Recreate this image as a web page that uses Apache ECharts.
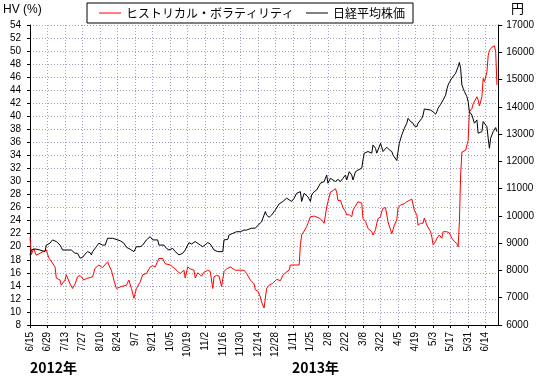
<!DOCTYPE html>
<html>
<head>
<meta charset="utf-8">
<script src="https://cdn.jsdelivr.net/npm/echarts@6/dist/echarts.min.js"></script>
<style>
html, body { margin: 0; padding: 0; background: #fff; }
#hvChart { width: 537px; height: 378px; }
</style>
</head>
<body>
<div id="hvChart"></div>
<script>
var hvChart = echarts.init(document.getElementById('hvChart'));

let startDate = '2012-06-15';
let hvName = 'ヒストリカル・ボラティリティ';
let nkName = '日経平均株価';

// ヒストリカル・ボラティリティ (%)
let hvDates = [
    '2012-06-15', '2012-06-16', '2012-06-18', '2012-06-20', '2012-06-23', '2012-06-28', '2012-06-30', '2012-07-03', '2012-07-05', '2012-07-06',
    '2012-07-09', '2012-07-10', '2012-07-11', '2012-07-13', '2012-07-14', '2012-07-17', '2012-07-19', '2012-07-21', '2012-07-23', '2012-07-25',
    '2012-07-26', '2012-07-28', '2012-07-30', '2012-08-04', '2012-08-06', '2012-08-07', '2012-08-09', '2012-08-12', '2012-08-16', '2012-08-17',
    '2012-08-19', '2012-08-21', '2012-08-23', '2012-08-27', '2012-08-31', '2012-09-02', '2012-09-04', '2012-09-05', '2012-09-06', '2012-09-08',
    '2012-09-11', '2012-09-13', '2012-09-16', '2012-09-19', '2012-09-21', '2012-09-23', '2012-09-26', '2012-09-29', '2012-10-01', '2012-10-05',
    '2012-10-07', '2012-10-09', '2012-10-11', '2012-10-13', '2012-10-16', '2012-10-17', '2012-10-19', '2012-10-21', '2012-10-24', '2012-10-25',
    '2012-10-27', '2012-10-30', '2012-11-01', '2012-11-04', '2012-11-06', '2012-11-08', '2012-11-09', '2012-11-11', '2012-11-13', '2012-11-15',
    '2012-11-17', '2012-11-19', '2012-11-22', '2012-11-23', '2012-11-26', '2012-12-03', '2012-12-05', '2012-12-08', '2012-12-11', '2012-12-12',
    '2012-12-14', '2012-12-16', '2012-12-17', '2012-12-19', '2012-12-20', '2012-12-21', '2012-12-23', '2012-12-26', '2012-12-29', '2013-01-01',
    '2013-01-03', '2013-01-05', '2013-01-08', '2013-01-09', '2013-01-16', '2013-01-17', '2013-01-18', '2013-01-20', '2013-01-22', '2013-01-23',
    '2013-01-25', '2013-01-28', '2013-02-01', '2013-02-03', '2013-02-05', '2013-02-07', '2013-02-08', '2013-02-10', '2013-02-12', '2013-02-14',
    '2013-02-15', '2013-02-16', '2013-02-18', '2013-02-20', '2013-02-22', '2013-02-23', '2013-02-25', '2013-02-27', '2013-02-28', '2013-03-04',
    '2013-03-07', '2013-03-08', '2013-03-10', '2013-03-11', '2013-03-12', '2013-03-13', '2013-03-15', '2013-03-16', '2013-03-18', '2013-03-19',
    '2013-03-20', '2013-03-22', '2013-03-23', '2013-03-24', '2013-03-26', '2013-03-28', '2013-03-29', '2013-03-31', '2013-04-01', '2013-04-02',
    '2013-04-04', '2013-04-05', '2013-04-07', '2013-04-10', '2013-04-12', '2013-04-14', '2013-04-16', '2013-04-17', '2013-04-18', '2013-04-20',
    '2013-04-21', '2013-04-23', '2013-04-25', '2013-04-26', '2013-04-28', '2013-04-29', '2013-05-01', '2013-05-02', '2013-05-03', '2013-05-05',
    '2013-05-06', '2013-05-08', '2013-05-10', '2013-05-11', '2013-05-14', '2013-05-16', '2013-05-18', '2013-05-19', '2013-05-20', '2013-05-22',
    '2013-05-23', '2013-05-24', '2013-05-25', '2013-05-26', '2013-05-29', '2013-05-31', '2013-06-01', '2013-06-03', '2013-06-04', '2013-06-05',
    '2013-06-07', '2013-06-08', '2013-06-09', '2013-06-11', '2013-06-12', '2013-06-13', '2013-06-15', '2013-06-16', '2013-06-17', '2013-06-19',
    '2013-06-21', '2013-06-22', '2013-06-23'
];
let hvValues = [
    21.4, 18.8, 19.7, 18.7, 19.0, 19.5, 18.3, 17.5, 16.9, 15.2,
    14.9, 14.1, 14.3, 14.9, 15.7, 14.3, 13.6, 14.3, 15.4, 15.6,
    15.4, 14.9, 15.1, 15.4, 16.7, 16.9, 17.2, 16.8, 17.7, 17.2,
    16.4, 14.9, 13.6, 13.9, 14.1, 14.9, 13.6, 12.9, 12.1, 13.6,
    14.6, 15.7, 15.9, 16.9, 17.1, 16.9, 18.2, 18.2, 17.4, 17.2,
    16.9, 16.6, 16.2, 15.9, 16.4, 15.2, 16.9, 16.6, 16.4, 15.2,
    16.0, 15.5, 16.1, 16.4, 16.2, 13.6, 15.4, 15.6, 15.5, 13.9,
    16.2, 16.6, 16.9, 17.2, 16.4, 16.4, 15.9, 14.9, 14.3, 13.4,
    13.2, 12.3, 11.5, 10.6, 12.1, 13.6, 14.1, 14.4, 15.0, 14.8,
    15.6, 16.0, 16.4, 17.2, 17.2, 20.3, 21.8, 22.4, 23.1, 23.6,
    24.6, 24.7, 24.4, 24.1, 23.6, 26.1, 26.9, 28.4, 28.6, 28.9,
    28.4, 27.1, 27.1, 26.0, 25.4, 24.9, 24.9, 24.6, 25.6, 26.9,
    26.7, 24.3, 23.9, 23.6, 22.8, 22.6, 22.3, 21.8, 22.6, 23.6,
    24.3, 24.6, 25.4, 25.9, 26.0, 23.8, 23.6, 22.0, 22.6, 23.3,
    24.1, 26.0, 26.4, 26.6, 26.9, 27.1, 27.3, 27.6, 25.6, 24.9,
    23.3, 23.6, 23.6, 24.4, 23.3, 23.0, 22.3, 21.5, 20.3, 20.8,
    21.3, 21.8, 21.3, 22.3, 22.3, 22.1, 21.3, 21.5, 20.8, 20.5,
    20.0, 23.8, 31.0, 34.5, 34.8, 36.3, 40.7, 41.2, 41.9, 41.6,
    43.0, 42.5, 41.6, 43.0, 45.8, 45.3, 46.8, 49.3, 50.1, 50.6,
    50.8, 49.9, 44.8
];

// 日経平均株価 (円)
let nkDates = [
    '2012-06-15', '2012-06-16', '2012-06-17', '2012-06-19', '2012-06-23', '2012-06-27', '2012-06-28', '2012-07-01', '2012-07-03', '2012-07-06',
    '2012-07-09', '2012-07-10', '2012-07-11', '2012-07-18', '2012-07-21', '2012-07-23', '2012-07-25', '2012-07-27', '2012-07-29', '2012-07-31',
    '2012-08-02', '2012-08-03', '2012-08-04', '2012-08-07', '2012-08-09', '2012-08-12', '2012-08-14', '2012-08-16', '2012-08-20', '2012-08-21',
    '2012-08-26', '2012-08-29', '2012-08-31', '2012-09-03', '2012-09-06', '2012-09-08', '2012-09-11', '2012-09-13', '2012-09-16', '2012-09-19',
    '2012-09-21', '2012-09-25', '2012-09-26', '2012-09-30', '2012-10-02', '2012-10-04', '2012-10-07', '2012-10-09', '2012-10-12', '2012-10-13',
    '2012-10-15', '2012-10-17', '2012-10-20', '2012-10-22', '2012-10-25', '2012-10-29', '2012-10-31', '2012-11-04', '2012-11-06', '2012-11-09',
    '2012-11-12', '2012-11-16', '2012-11-17', '2012-11-20', '2012-11-21', '2012-11-24', '2012-11-27', '2012-11-30', '2012-12-03', '2012-12-05',
    '2012-12-09', '2012-12-12', '2012-12-13', '2012-12-15', '2012-12-17', '2012-12-20', '2012-12-21', '2012-12-23', '2012-12-24', '2012-12-25',
    '2012-12-28', '2012-12-31', '2013-01-03', '2013-01-06', '2013-01-08', '2013-01-10', '2013-01-12', '2013-01-14', '2013-01-17', '2013-01-18',
    '2013-01-20', '2013-01-23', '2013-01-25', '2013-01-26', '2013-01-28', '2013-01-30', '2013-02-02', '2013-02-03', '2013-02-05', '2013-02-07',
    '2013-02-08', '2013-02-10', '2013-02-12', '2013-02-14', '2013-02-16', '2013-02-18', '2013-02-20', '2013-02-22', '2013-02-23', '2013-02-25',
    '2013-02-27', '2013-02-28', '2013-03-02', '2013-03-04', '2013-03-07', '2013-03-08', '2013-03-09', '2013-03-12', '2013-03-15', '2013-03-16',
    '2013-03-18', '2013-03-19', '2013-03-20', '2013-03-22', '2013-03-23', '2013-03-24', '2013-03-25', '2013-03-27', '2013-03-29', '2013-03-31',
    '2013-04-01', '2013-04-02', '2013-04-04', '2013-04-05', '2013-04-06', '2013-04-08', '2013-04-09', '2013-04-10', '2013-04-12', '2013-04-13',
    '2013-04-15', '2013-04-17', '2013-04-18', '2013-04-20', '2013-04-21', '2013-04-22', '2013-04-24', '2013-04-25', '2013-04-26', '2013-05-01',
    '2013-05-03', '2013-05-05', '2013-05-06', '2013-05-07', '2013-05-09', '2013-05-11', '2013-05-13', '2013-05-14', '2013-05-15', '2013-05-16',
    '2013-05-18', '2013-05-19', '2013-05-21', '2013-05-22', '2013-05-23', '2013-05-24', '2013-05-25', '2013-05-26', '2013-05-27', '2013-05-28',
    '2013-05-30', '2013-05-31', '2013-06-01', '2013-06-03', '2013-06-04', '2013-06-05', '2013-06-07', '2013-06-08', '2013-06-09', '2013-06-11',
    '2013-06-12', '2013-06-13', '2013-06-15', '2013-06-16', '2013-06-17', '2013-06-18', '2013-06-19', '2013-06-20', '2013-06-21', '2013-06-22',
    '2013-06-23'
];
let nkValues = [
    8570, 8750, 8690, 8790, 8750, 8690, 8930, 9000, 9120, 9060,
    8930, 8850, 8750, 8750, 8630, 8630, 8450, 8480, 8600, 8690,
    8650, 8570, 8690, 8870, 9000, 8930, 8930, 9180, 9180, 9120,
    9090, 9000, 8850, 8780, 8690, 8870, 8870, 8930, 9120, 9240,
    9120, 9120, 8930, 8930, 8810, 8750, 8810, 8690, 8570, 8530,
    8630, 8750, 9020, 8970, 9060, 8930, 8870, 9020, 8970, 8750,
    8690, 8690, 9120, 9140, 9300, 9360, 9420, 9420, 9480, 9480,
    9550, 9550, 9610, 9700, 9780, 10160, 10030, 9950, 9990, 10030,
    10220, 10440, 10530, 10650, 10590, 10530, 10650, 10830, 10890, 10530,
    10830, 10700, 10530, 10770, 10890, 10950, 11200, 11260, 11260, 11500,
    11200, 11380, 11320, 11260, 11340, 11260, 11380, 11500, 11320, 11620,
    11500, 11320, 11620, 11680, 11750, 12050, 12300, 12360, 12300, 12600,
    12480, 12300, 12230, 12660, 12600, 12360, 12420, 12520, 12420, 12360,
    12230, 12170, 12030, 12360, 12660, 12970, 13090, 13210, 13400, 13580,
    13460, 13400, 13300, 13270, 13400, 13460, 13580, 13700, 13920, 13880,
    13820, 13730, 13820, 13950, 14090, 14250, 14430, 14650, 14800, 14900,
    15050, 15110, 15230, 15350, 15470, 15630, 15410, 14800, 14680, 14560,
    14370, 14190, 13820, 13700, 13640, 13400, 13520, 13030, 12970, 13090,
    13460, 13460, 13270, 12850, 12480, 12850, 12910, 13090, 13030, 13240,
    13090
];

let t0 = Date.parse(startDate + 'T00:00:00Z');
let dayMs = 86400000;
let toDay = function(s) {
    return (Date.parse(s + 'T00:00:00Z') - t0) / dayMs;
};
let dayLabel = function(v) {
    let d = new Date(t0 + v * dayMs);
    return (d.getUTCMonth() + 1) + '/' + d.getUTCDate();
};

let gridColor = '#a99cbd';
let gridDots = [1, 2];
let numFont = 'Liberation Sans, Arial, sans-serif';
let jpFont = 'Noto Sans CJK JP, sans-serif';

option = {
    backgroundColor: '#ffffff',
    animation: false,
    grid: {
        left: 30,
        right: 37,
        top: 25,
        bottom: 53,
        containLabel: false
    },
    legend: {
        left: 87,
        top: 3,
        icon: 'rect',
        itemWidth: 22,
        itemHeight: 1,
        itemGap: 12,
        padding: [4, 8, 4, 12],
        backgroundColor: '#ffffff',
        borderColor: '#000000',
        borderWidth: 1,
        textStyle: {
            fontFamily: jpFont,
            fontSize: 12,
            lineHeight: 12,
            color: '#000000'
        },
        data: [hvName, nkName]
    },
    graphic: [{
        type: 'text',
        left: 3,
        top: 4,
        style: { text: 'HV (%)', font: '12px ' + numFont, fill: '#000' }
    }, {
        type: 'text',
        left: 511,
        top: 2,
        style: { text: '円', font: '13px ' + jpFont, fill: '#000' }
    }, {
        type: 'text',
        left: 30,
        top: 361,
        style: { text: '2012年', font: 'bold 14px ' + jpFont, fill: '#000' }
    }, {
        type: 'text',
        left: 292,
        top: 361,
        style: { text: '2013年', font: 'bold 14px ' + jpFont, fill: '#000' }
    }],
    xAxis: {
        type: 'value',
        min: 0,
        max: 374,
        interval: 14,
        axisLine: { lineStyle: { color: '#000', width: 1 } },
        axisTick: { length: 3, lineStyle: { color: '#000' } },
        axisLabel: {
            rotate: 90,
            margin: 7,
            fontSize: 10,
            fontFamily: numFont,
            color: '#000',
            showMaxLabel: false,
            formatter: function(v) {
                return v % 14 ? '' : dayLabel(v);
            }
        },
        splitLine: { show: true, lineStyle: { type: gridDots, color: gridColor } }
    },
    yAxis: [{
        type: 'value',
        min: 8,
        max: 54,
        interval: 2,
        axisLine: { show: true, lineStyle: { color: '#000', width: 1 } },
        axisTick: { show: true, length: 3, lineStyle: { color: '#000' } },
        axisLabel: { margin: 9, fontSize: 10, fontFamily: numFont, color: '#000' },
        splitLine: { show: true, lineStyle: { type: gridDots, color: gridColor } }
    }, {
        type: 'value',
        position: 'right',
        min: 6000,
        max: 17000,
        interval: 1000,
        axisLine: { show: true, lineStyle: { color: '#000', width: 1 } },
        axisTick: { show: true, length: 4, lineStyle: { color: '#000' } },
        axisLabel: {
            margin: 8,
            fontSize: 10,
            fontFamily: numFont,
            color: '#000',
            formatter: v => String(v)
        },
        splitLine: { show: false }
    }],
    series: [{
        name: hvName,
        type: 'line',
        yAxisIndex: 0,
        symbol: 'none',
        lineStyle: { color: '#ff0000', width: 1 },
        itemStyle: { color: '#ff0000' },
        data: hvDates.map((s, i) => [toDay(s), hvValues[i]])
    }, {
        name: nkName,
        type: 'line',
        yAxisIndex: 1,
        symbol: 'none',
        lineStyle: { color: '#000000', width: 1 },
        itemStyle: { color: '#000000' },
        data: nkDates.map((s, i) => [toDay(s), nkValues[i]])
    }]
};
hvChart.setOption(option);
</script>
</body>
</html>
